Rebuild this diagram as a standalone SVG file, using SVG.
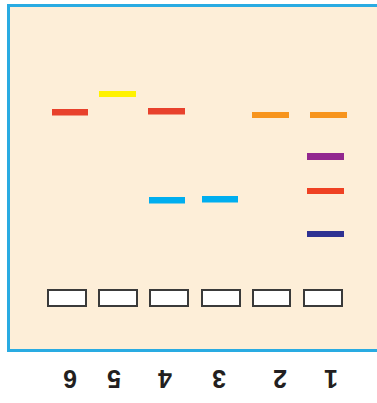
<svg xmlns="http://www.w3.org/2000/svg" width="377" height="403" viewBox="0 0 377 403">
<style>
.band{stroke:none}
.well{fill:#ffffff;stroke:#3a3a3a;stroke-width:2}
.lbl{font-family:"Liberation Sans","Open Sans",sans-serif;font-weight:bold;font-size:25px;fill:#231f20;text-anchor:middle}
</style>
<rect width="377" height="403" fill="#ffffff"/>
<g id="gel">
<rect x="8.5" y="5.5" width="380" height="345" fill="#fdeed8" stroke="#29abe2" stroke-width="3"/>
</g>
<g id="wells">
<rect class="well" x="48" y="290" width="38" height="16"/>
<rect class="well" x="99" y="290" width="38" height="16"/>
<rect class="well" x="150" y="290" width="38" height="16"/>
<rect class="well" x="202" y="290" width="38" height="16"/>
<rect class="well" x="253" y="290" width="37" height="16"/>
<rect class="well" x="304" y="290" width="38" height="16"/>
</g>
<g id="bands">
<rect class="band" x="52" y="109" width="36" height="6.5" fill="#e8412c"/>
<rect class="band" x="99" y="91" width="37" height="6" fill="#fff200"/>
<rect class="band" x="148" y="108" width="37" height="6.5" fill="#e8412c"/>
<rect class="band" x="149" y="197" width="36" height="6.5" fill="#00aeef"/>
<rect class="band" x="202" y="196" width="36" height="6.5" fill="#00aeef"/>
<rect class="band" x="252" y="112" width="37" height="6" fill="#f7941d"/>
<rect class="band" x="310" y="112" width="37" height="6" fill="#f7941d"/>
<rect class="band" x="307" y="153" width="37" height="7" fill="#92278f"/>
<rect class="band" x="307" y="188" width="37" height="6" fill="#ef4123"/>
<rect class="band" x="307" y="231" width="37" height="6" fill="#2e3192"/>
</g>
<g id="labels">
<text class="lbl" x="70" y="388" transform="rotate(180 70 379)">6</text>
<text class="lbl" x="114" y="388" transform="rotate(180 114 379)">5</text>
<text class="lbl" x="165" y="388" transform="rotate(180 165 379)">4</text>
<text class="lbl" x="219" y="388" transform="rotate(180 219 379)">3</text>
<text class="lbl" x="280" y="388" transform="rotate(180 280 379)">2</text>
<text class="lbl" x="331" y="388" transform="rotate(180 331 379)">1</text>
</g>
</svg>
